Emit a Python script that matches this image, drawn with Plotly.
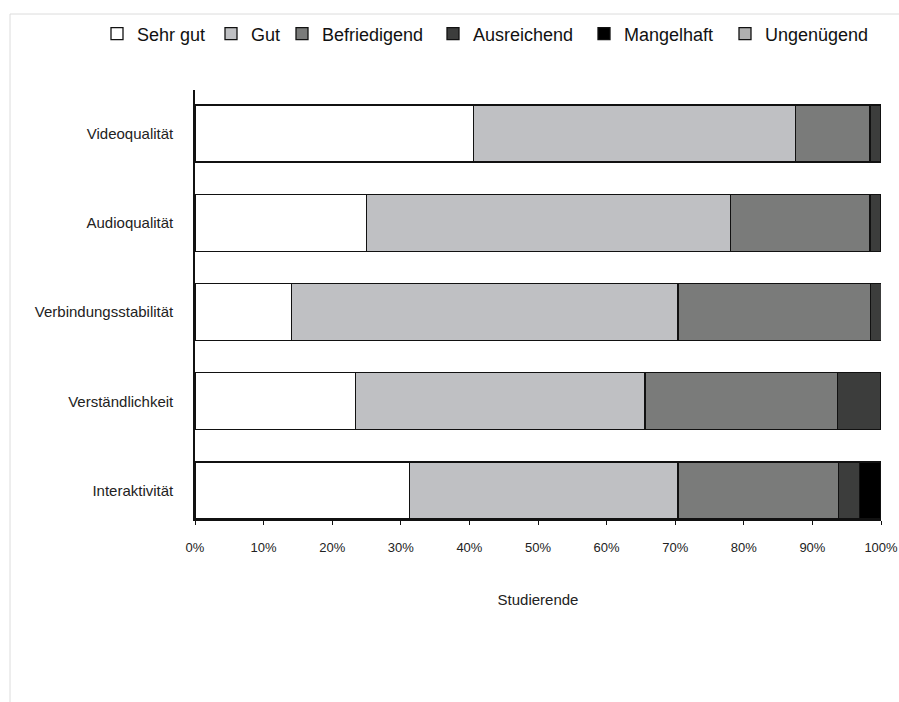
import plotly.graph_objects as go

# Survey ratings (share of students, %) per aspect of the online lectures
aspects = ["Videoqualität", "Audioqualität", "Verbindungsstabilität",
           "Verständlichkeit", "Interaktivität"]

sehr_gut = [40.6, 25.0, 14.1, 23.4, 31.3]
gut = [46.9, 53.1, 56.3, 42.2, 39.1]
befriedigend = [10.9, 20.3, 28.1, 28.1, 23.4]
ausreichend = [1.6, 1.6, 1.6, 6.3, 3.1]
mangelhaft = [0.0, 0.0, 0.0, 0.0, 3.1]
ungenuegend = [0.0, 0.0, 0.0, 0.0, 0.0]

x_ticks = [0, 10, 20, 30, 40, 50, 60, 70, 80, 90, 100]
x_tick_labels = [f"{t}%" for t in x_ticks]

series = [
    ("Sehr gut", sehr_gut, "#ffffff"),
    ("Gut", gut, "#bfc0c3"),
    ("Befriedigend", befriedigend, "#7a7b7a"),
    ("Ausreichend", ausreichend, "#3c3d3c"),
    ("Mangelhaft", mangelhaft, "#000000"),
    ("Ungenügend", ungenuegend, "#b0b0b0"),
]

# left edge (px) of each legend entry text in the top row
legend_text_x = [137, 251, 322, 473, 624, 765]

FONT = "Liberation Sans, Arial, sans-serif"
W, H = 899, 702

fig = go.Figure()
legends = {}
for i, (name, values, color) in enumerate(series):
    key = "legend" if i == 0 else f"legend{i + 1}"
    fig.add_trace(go.Bar(
        name=name,
        y=aspects,
        x=values,
        orientation="h",
        width=0.64,
        marker=dict(color=color, line=dict(color="#111111", width=1.3)),
        hoverinfo="name+x",
        legend=key,
        showlegend=True,
    ))
    legends[key] = dict(
        orientation="h",
        xref="container", yref="container",
        x=(legend_text_x[i] - 40) / W, xanchor="left",
        y=1 - 34 / H, yanchor="middle",
        font=dict(family=FONT, size=18, color="#111111"),
        itemwidth=30,
        bgcolor="rgba(0,0,0,0)",
        borderwidth=0,
        visible=True,
    )

# bottom-to-top order so that Videoqualität is on top
cat_order = list(reversed(aspects))

fig.update_layout(
    barmode="stack",
    showlegend=True,
    width=W,
    height=H,
    paper_bgcolor="white",
    plot_bgcolor="white",
    margin=dict(l=195, r=18, t=90, b=183, autoexpand=False),
    font=dict(family=FONT, size=13, color="#222222"),
    xaxis=dict(
        range=[0, 100],
        tickmode="array",
        tickvals=x_ticks,
        ticktext=x_tick_labels,
        showgrid=False,
        zeroline=False,
        showline=True,
        linecolor="#111111",
        linewidth=1.5,
        ticks="outside",
        ticklen=4,
        tickcolor="#111111",
        ticklabelstandoff=12,
        automargin=False,
        tickfont=dict(size=13, color="#222222"),
        title=dict(text="Studierende", font=dict(size=15, color="#222222"), standoff=40),
    ),
    yaxis=dict(
        categoryorder="array",
        categoryarray=cat_order,
        range=[-0.319, 4.487],
        showgrid=False,
        zeroline=False,
        showline=True,
        linecolor="#111111",
        linewidth=1.5,
        ticks="",
        ticklabelstandoff=17,
        automargin=False,
        tickfont=dict(size=15, color="#222222"),
    ),
    shapes=[
        # light frame around the chart area
        dict(
            type="rect", xref="paper", yref="paper",
            x0=(10 - 195) / 686, x1=(910 - 195) / 686,
            y0=(519 - 712) / 429, y1=(519 - 14) / 429,
            line=dict(color="#dcdcdc", width=1),
            fillcolor="rgba(0,0,0,0)",
            layer="below",
        )
    ],
    **legends,
)

fig.write_html("out.html")
